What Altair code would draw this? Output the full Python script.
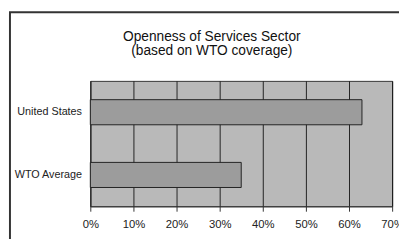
import altair as alt
import pandas as pd

categories = ["United States", "WTO Average"]
values = [0.63, 0.35]
x_ticks = [0, 0.1, 0.2, 0.3, 0.4, 0.5, 0.6, 0.7]
title_lines = ["Openness of Services Sector", "(based on WTO coverage)"]

df = pd.DataFrame({"country": categories, "share": values})

FONT = "Liberation Sans"

frame = alt.Chart(pd.DataFrame({"a": [0]})).mark_rect(
    fillOpacity=0, stroke="#333333", strokeWidth=2
).encode(
    x=alt.value(-82), x2=alt.value(340), y=alt.value(-70), y2=alt.value(220)
)

title1 = alt.Chart(pd.DataFrame({"t": [title_lines[0]]})).mark_text(
    font=FONT, fontSize=14, color="#111111", align="center", baseline="alphabetic"
).encode(text="t:N", x=alt.value(124), y=alt.value(-41))

title2 = alt.Chart(pd.DataFrame({"t": [title_lines[1]]})).mark_text(
    font=FONT, fontSize=14, color="#111111", align="center", baseline="alphabetic"
).encode(text="t:N", x=alt.value(124), y=alt.value(-26))

bars = alt.Chart(df).mark_bar(
    fill="#9c9c9c", stroke="#222222", strokeWidth=1
).encode(
    x=alt.X("share:Q",
            scale=alt.Scale(domain=[0, 0.7], nice=False),
            axis=alt.Axis(values=x_ticks, format=".0%", grid=True, gridColor="#111111",
                          gridOpacity=0.9, domainColor="#333333", tickColor="#333333",
                          tickSize=5, labelPadding=8, labelFont=FONT, labelFontSize=11.5,
                          labelColor="#222222", title=None, labelFlush=False)),
    y=alt.Y("country:N", sort=categories,
            scale=alt.Scale(paddingInner=0.6, paddingOuter=0.3),
            axis=alt.Axis(ticks=False, domain=True, domainColor="#333333", labelPadding=9,
                          labelFont=FONT, labelFontSize=11, labelColor="#222222",
                          title=None, grid=False)),
)

chart = alt.layer(bars, frame, title1, title2).properties(
    width=308,
    height=128,
    background="white",
    autosize=alt.AutoSizeParams(type="none"),
    padding={"left": 84, "top": 72, "right": 7, "bottom": 31},
).configure_view(stroke="#333333", strokeWidth=1, fill="#b9b9b9")

chart.save("out.html", embed_options={"renderer": "svg", "actions": False})
